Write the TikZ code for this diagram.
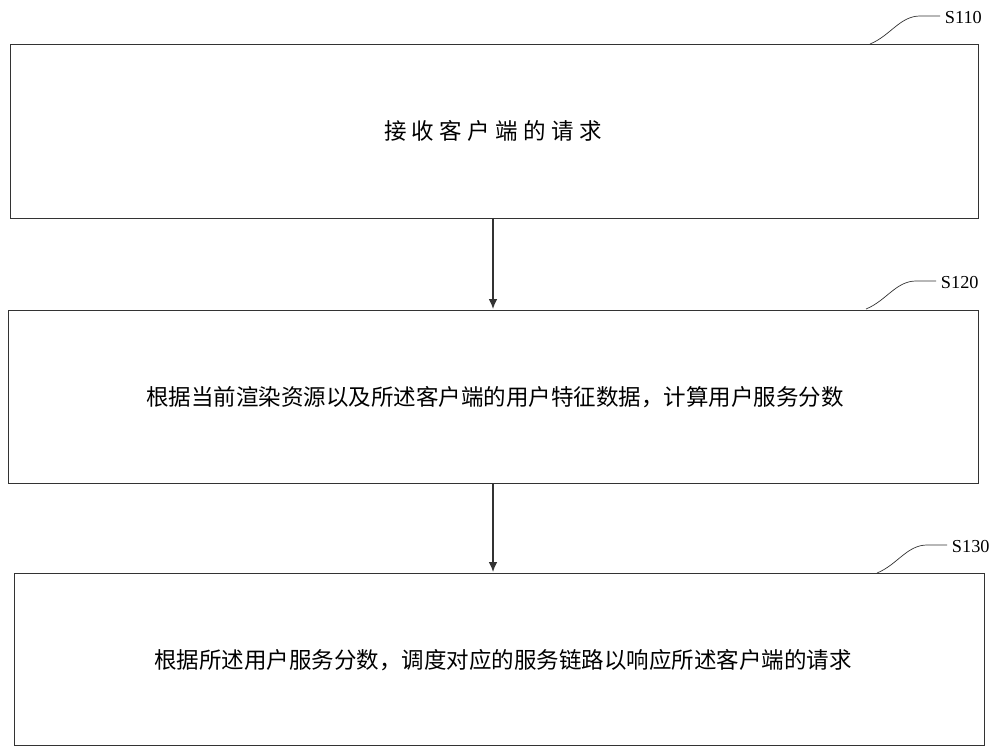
\documentclass[tikz,border=0pt]{standalone}
\usepackage{fontspec}
\usetikzlibrary{arrows.meta}
\newfontfamily\cjk{Noto Sans CJK SC}
\setmainfont{Liberation Serif}
\begin{document}
\begin{tikzpicture}[x=0.025cm,y=-0.025cm]
    \tikzset{stepbox/.style={draw=black!80,line width=0.6pt}, steptext/.style={font=\cjk\fontsize{16}{19}\selectfont}, tag/.style={font=\fontsize{13}{15}\selectfont}}
    \useasboundingbox (0,0) rectangle (1000,755);

    % Boxes
    \draw[stepbox] (10,44) rectangle (978,218);
    \draw[stepbox] (8,310) rectangle (978,483);
    \draw[stepbox] (14,573) rectangle (984,745);

    % Texts
    \node[steptext] (t1) at (493,131) {\addfontfeature{LetterSpace=24}接收客户端的请求};
    \node[steptext] (t2) at (495,397) {根据当前渲染资源以及所述客户端的用户特征数据，计算用户服务分数};
    \node[steptext] (t3) at (503,660) {根据所述用户服务分数，调度对应的服务链路以响应所述客户端的请求};

    % Arrows
    \coordinate (a1) at (493,218);
    \coordinate (b1) at (493,309);
    \coordinate (a2) at (493,483);
    \coordinate (b2) at (493,572);
    \draw[-{Latex[length=7pt,width=6pt]},line width=0.8pt,black!80] (a1) -- (b1);
    \draw[-{Latex[length=7pt,width=6pt]},line width=0.8pt,black!80] (a2) -- (b2);

    % Step tags
    \foreach \x/\y/\lab in {870/44/S110, 866/309/S120, 877/573/S130}{
        \draw[black!80,line width=0.5pt] (\x,\y) .. controls (\x+20,\y-8) and (\x+30,\y-28) .. (\x+50,\y-28) -- (\x+70,\y-28);
        \node[tag,anchor=west] at (\x+70,\y-26) {\lab};
    }

\end{tikzpicture}
\end{document}
